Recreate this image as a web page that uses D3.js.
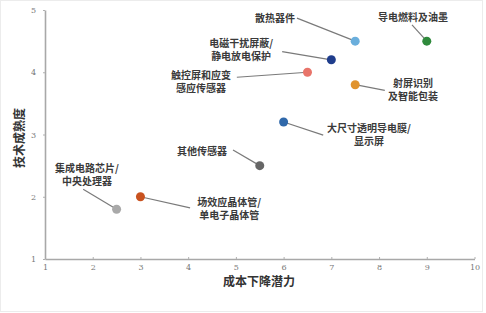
<!DOCTYPE html>
<html>
<head>
<meta charset="utf-8">
<script src="https://cdn.jsdelivr.net/npm/d3@7"></script>
<style>
  html, body { margin: 0; padding: 0; background: #fff; }
  .tick text { font-family: "DejaVu Serif", "Liberation Serif", serif; }
</style>
</head>
<body>
<div class="chart"></div>
<script>
'use strict';

// data
var names = ['散热器件', '导电燃料及油墨', '电磁干扰屏蔽/\n静电放电保护', '触控屏和应变\n感应传感器',
             '射屏识别\n及智能包装', '大尺寸透明导电膜/\n显示屏', '其他传感器',
             '集成电路芯片/\n中央处理器', '场效应晶体管/\n单电子晶体管'];
var costDrop = [7.5, 9, 7, 6.5, 7.5, 6, 5.5, 2.5, 3];
var maturity = [4.5, 4.5, 4.2, 4.0, 3.8, 3.2, 2.5, 1.8, 2.0];
var colors   = ['#6aaedc', '#2f8a3c', '#1f3d8c', '#e8746a', '#e0922c', '#2f68aa', '#666666', '#a9a9a9', '#c9521f'];
// label anchors in data units (centre of first text line) and leader line ends
var labelX = [5.82, 8.71, 5.11, 4.27, 8.71, 7.79, 4.29, 1.88, 4.86];
var labelY = [4.87, 4.89, 4.47, 3.96, 3.83, 3.10, 2.73, 2.46, 1.92];
var lineX  = [6.28, 8.69, 5.97, 5.02, 8.12, 6.83, 4.94, 1.80, 4.04];
var lineY  = [4.87, 4.76, 4.33, 3.92, 3.71, 2.99, 2.75, 2.12, 1.82];

var xTicks = d3.range(1, 11);
var yTicks = d3.range(1, 6);

var width = 486, height = 313;
var svg = d3.select('.chart').append('svg')
  .attr('width', width)
  .attr('height', height);

// faint frame of the original picture
svg.append('rect')
  .attr('x', 0.5).attr('y', 0.5)
  .attr('width', 482).attr('height', 311)
  .attr('fill', 'none')
  .attr('stroke', '#ececec');

var x = d3.scaleLinear().domain([1, 10]).range([45, 474.5]);
var y = d3.scaleLinear().domain([1, 5]).range([259, 10]);

// axes
var xAxis = svg.append('g')
  .attr('transform', 'translate(0,' + y(1) + ')')
  .call(d3.axisBottom(x).tickValues(xTicks).tickFormat(d3.format('d'))
    .tickSize(-2).tickPadding(5).tickSizeOuter(0));
var yAxis = svg.append('g')
  .attr('transform', 'translate(' + x(1) + ',0)')
  .call(d3.axisLeft(y).tickValues(yTicks).tickFormat(d3.format('d'))
    .tickSize(2).tickPadding(7).tickSizeOuter(0));

[xAxis, yAxis].forEach(function(a) {
  a.select('.domain').attr('stroke', '#a8a8a8').attr('stroke-width', 1.6);
  a.selectAll('.tick line').attr('stroke', '#b0b0b0');
  a.selectAll('.tick text').attr('fill', '#777').style('font-size', '8px');
});

// axis titles
svg.append('text')
  .attr('x', 259).attr('y', 286)
  .attr('text-anchor', 'middle')
  .style('font-family', '"Noto Sans CJK SC", sans-serif')
  .style('font-size', '12px')
  .style('font-weight', 'bold')
  .attr('fill', '#333')
  .text('成本下降潜力');

svg.append('text')
  .attr('transform', 'translate(24,138) rotate(-90)')
  .attr('text-anchor', 'middle')
  .style('font-family', '"Noto Sans CJK SC", sans-serif')
  .style('font-size', '12px')
  .style('font-weight', 'bold')
  .attr('fill', '#333')
  .text('技术成熟度');

var idx = d3.range(names.length);

// leader lines
svg.selectAll('line.leader')
  .data(idx).enter()
  .append('line')
    .attr('class', 'leader')
    .attr('x1', function(i) { return x(costDrop[i]); })
    .attr('y1', function(i) { return y(maturity[i]); })
    .attr('x2', function(i) { return x(lineX[i]); })
    .attr('y2', function(i) { return y(lineY[i]); })
    .attr('stroke', '#7a7a7a')
    .attr('stroke-width', 1.2);

// points
svg.selectAll('circle')
  .data(idx).enter()
  .append('circle')
    .attr('cx', function(i) { return x(costDrop[i]); })
    .attr('cy', function(i) { return y(maturity[i]); })
    .attr('r', 4.5)
    .style('fill', function(i) { return colors[i]; });

// labels
var labels = svg.selectAll('text.label')
  .data(idx).enter()
  .append('text')
    .attr('class', 'label')
    .attr('text-anchor', 'middle')
    .style('font-family', '"Noto Sans CJK SC", sans-serif')
    .style('font-size', '10px')
    .style('font-weight', 'bold')
    .attr('fill', '#3a3a3a');

labels.each(function(i) {
  var parts = names[i].split('\n');
  var t = d3.select(this);
  parts.forEach(function(p, k) {
    t.append('tspan')
      .attr('x', x(labelX[i]))
      .attr('y', y(labelY[i]) + 3.8 + k * 13)
      .text(p);
  });
});
</script>
</body>
</html>
